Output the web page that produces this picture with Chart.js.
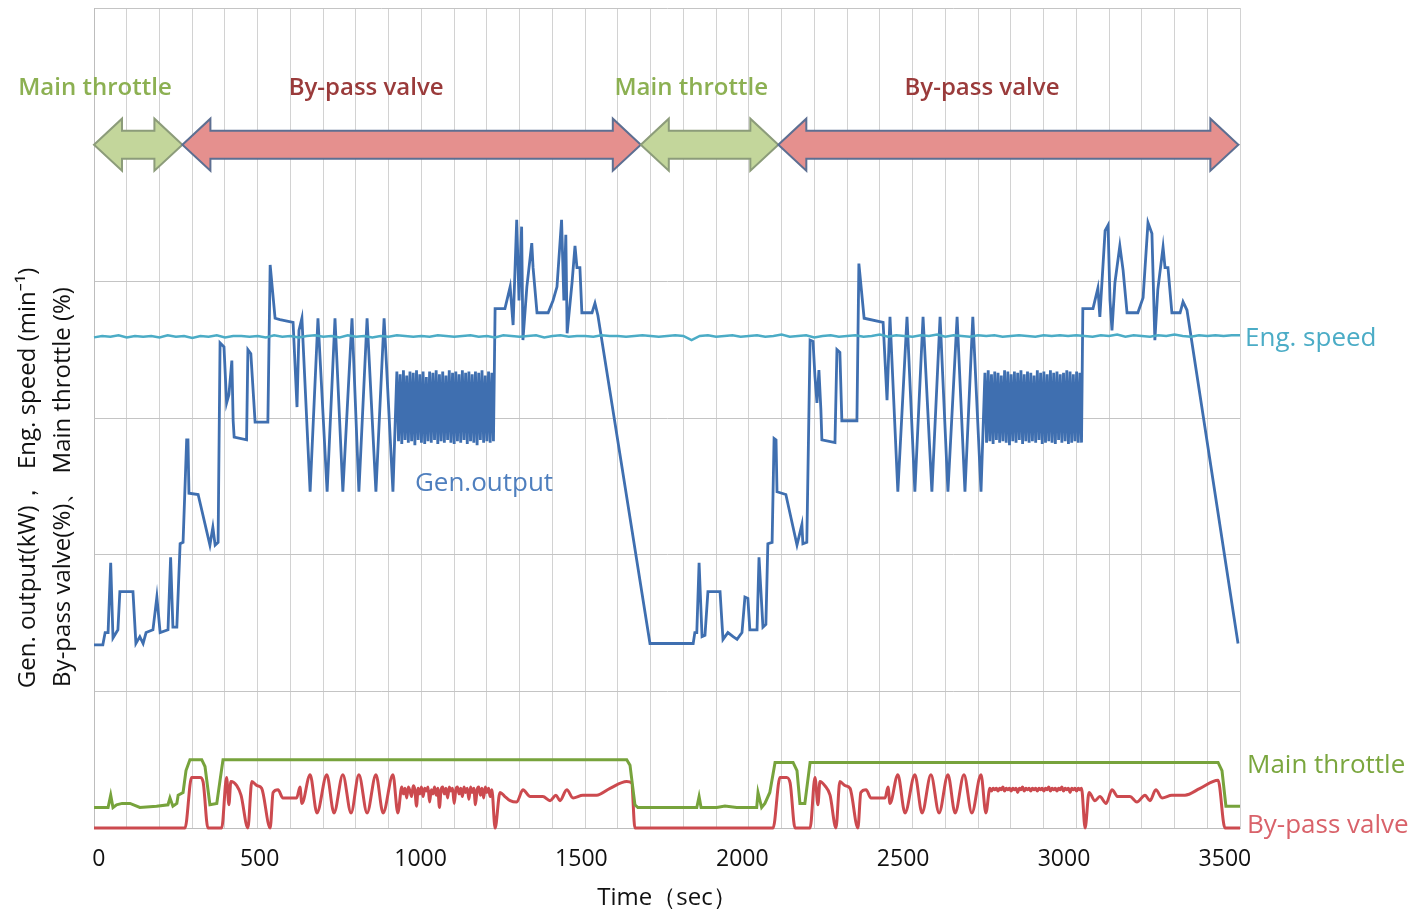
<!DOCTYPE html>
<html>
<head>
<meta charset="utf-8">
<script src="https://cdn.jsdelivr.net/npm/chart.js@4"></script>
<style>
  html, body { margin: 0; padding: 0; background: #fff; }
  canvas { display: block; }
</style>
</head>
<body>
<canvas id="chart" width="1422" height="913"></canvas>
<script>
// time in sec, values in plot units (10 units per horizontal gridline)
const timeLabels = [0, 500, 1000, 1500, 2000, 2500, 3000, 3500];

// Gen. output, split round the two dense oscillation blocks
const genTa = [0,27,34,43,51,58,73,79,119,128,140,150,159,180,192,202,226,234,241,253,263,272,283,287,290,318,354,363,370,379,385,397,405,412,421,425,428,466,470,479,492,531,538,553,568,608,620,626,635,660,684,712,736,760,788,809,834,861,886,913];
const genVa = [13.4,13.4,14.3,14.3,19.4,13.9,14.5,17.3,17.3,13.5,14.0,13.5,14.3,14.5,16.9,14.3,14.5,19.8,14.7,14.7,20.8,20.9,28.4,28.4,24.5,24.4,20.7,22.0,20.7,20.9,35.5,35.2,31.1,31.7,34.2,29.8,28.6,28.4,35.0,34.7,29.7,29.7,41.2,37.3,37.2,37.0,30.8,36.4,37.3,24.6,37.3,24.6,37.3,24.6,37.3,24.6,37.3,24.6,37.3,24.6];
const genBand1 = [33.4,28.3,33.2,28.1,33.5,28.4,33.1,28.2,33.4,28.3,33.3,28.0,33.5,28.4,33.2,28.2,33.4,28.1,33.0,28.3,33.4,28.2,33.3,28.4,33.5,28.1,33.2,28.3,33.4,28.2,33.1,28.4,33.5,28.2,33.3,28.1,33.4,28.3,33.2,28.2,33.5,28.4,33.3,28.1,33.4,28.3,33.2,28.2,33.4,28.0,33.3,28.4,33.5,28.2,33.1,28.3,33.4,28.2,33.3,28.3];
const genTb = [1225,1255,1271,1280,1291,1298,1306,1310,1322,1337,1341,1353,1387,1402,1414,1428,1435,1441,1445,1460,1469,1475,1484,1490,1521,1530,1539,1698,1830,1835,1841,1848,1857,1866,1875,1912,1921,1936,1952,1964,1979,1988,1997,2003,2025,2031,2043,2052,2058,2071,2077,2083,2086,2113,2147,2162,2165,2177,2187,2196,2202,2208,2214,2220,2223,2263,2269,2278,2284,2330,2336,2352,2410,2422,2431,2455,2483,2507,2532,2559,2584,2608,2636,2660,2684,2709];
const genVb = [38.0,38.0,39.6,36.8,44.5,38.6,44.0,35.7,39.6,42.8,41.0,37.7,37.7,38.6,39.6,44.5,38.6,43.4,36.2,39.9,42.6,41.0,41.0,37.7,37.7,38.4,37.5,13.5,13.5,14.3,14.3,19.4,14.0,14.1,17.3,17.3,13.8,14.3,14.0,13.8,14.3,16.9,16.8,14.5,14.5,19.8,14.7,14.9,20.8,20.9,28.5,28.4,24.6,24.4,20.7,22.2,20.8,20.9,35.7,35.6,33.0,31.1,33.5,30.6,28.4,28.2,35.0,34.8,29.8,29.8,41.3,37.3,37.0,31.3,37.4,24.6,37.4,24.6,37.4,24.6,37.4,24.6,37.4,24.6,37.4,24.6];
const genBand2 = [33.3,28.2,33.5,28.3,33.2,28.1,33.4,28.4,33.3,28.2,33.1,28.3,33.5,28.2,33.4,28.0,33.2,28.3,33.4,28.2,33.3,28.4,33.5,28.1,33.2,28.3,33.4,28.2,33.3,28.3,33.1,28.2,33.5,28.4,33.3,28.1,33.4,28.2,33.2,28.3,33.5,28.2,33.3,28.1,33.4,28.4,33.2,28.2,33.3,28.3,33.5,28.1,33.4,28.2,33.2,28.3,33.4,28.2,33.3,28.2];
const genTc = [3020,3051,3066,3072,3088,3097,3103,3109,3118,3133,3143,3155,3188,3204,3219,3231,3240,3249,3265,3271,3280,3292,3317,3326,3338,3494];
const genVc = [38.0,38.0,39.5,37.4,43.7,44.1,38.6,36.4,39.9,42.6,40.8,37.7,37.7,38.8,44.3,43.5,35.7,39.4,42.5,41.0,41.0,37.7,37.7,38.5,37.9,13.5];
const genBandStart = [925, 2721];
const genBandStep = 5;

// Eng. speed, one reading every 25 s
const engStep = 25;
const engSpeed = [
  35.9,36.0,35.95,36.05,35.9,36.0,35.95,36.0,35.9,36.05,35.95,36.0,35.85,36.0,35.95,36.05,35.9,36.0,36.0,35.95,
  36.0,35.9,36.05,35.95,36.0,35.9,36.0,36.05,35.95,36.0,35.9,36.05,35.95,36.0,35.9,36.0,35.95,36.05,36.0,35.95,
  36.0,35.95,36.05,36.0,35.95,36.0,36.05,35.95,36.0,35.9,36.05,36.0,35.95,36.0,36.05,35.9,36.0,36.05,35.95,36.0,
  36.0,35.95,36.05,36.0,36.0,35.95,36.0,36.05,36.0,35.95,36.0,36.05,36.0,35.7,36.0,36.05,35.95,36.0,36.05,35.95,
  36.0,36.05,35.95,36.0,36.1,35.95,36.0,36.05,35.9,36.0,36.05,35.95,36.0,36.05,35.95,36.0,36.1,35.95,36.05,36.0,
  35.95,36.05,36.0,36.1,35.95,36.05,36.0,35.95,36.05,36.0,36.05,35.95,36.0,36.05,36.0,35.95,36.05,36.0,36.05,36.0,
  36.05,36.0,35.95,36.05,36.0,36.1,35.95,36.05,36.0,35.95,36.05,36.0,36.1,36.0,35.95,36.05,36.0,36.05,36.0,36.05,36.05];

// Main throttle
const throttleT = [0,43,51,58,69,86,110,140,191,226,232,241,253,257,272,281,293,329,339,354,375,385,394,1627,1637,1652,1661,1841,1848,1854,1902,1927,1963,2024,2028,2039,2049,2064,2080,2135,2147,2156,2171,2187,3433,3445,3457,3500];
const throttleV = [1.5,1.5,2.4,1.5,1.7,1.8,1.8,1.5,1.6,1.7,2.2,1.6,1.8,2.4,2.6,4.2,5.0,5.0,4.5,1.7,1.8,3.5,5.0,5.0,4.6,1.7,1.5,1.5,2.3,1.5,1.5,1.6,1.5,1.5,2.6,1.5,1.8,2.6,4.8,4.8,4.2,1.8,1.8,4.8,4.8,4.2,1.6,1.6];

// By-pass valve
const bypassTa = [0,278,298,324,333,348,390,405,412,418,436,449,470,482,498,512,538,547,562,577,619,629,635,660,681,711,733,760,785,809,834,861,883,913,928];
const bypassVa = [0,0,3.7,3.7,3.4,0,0,3.7,1.7,3.4,3.1,2.4,0,3.4,3.1,2.9,0,2.6,2.8,2.2,2.2,3.0,1.8,3.9,1.1,3.9,1.1,3.9,1.1,3.9,1.1,3.9,1.1,3.9,1.1];
const bypassBand1 = [3.0,2.5,2.9,2.2,3.0,2.7,2.3,3.1,2.8,1.6,2.9,2.5,3.0,2.3,2.9,2.7,3.0,1.9,2.8,2.5,3.0,2.4,2.9,1.5,2.8,3.0,2.5,2.9,2.2,3.0,2.7,2.9,1.8,2.8,3.0,2.5,2.9,2.3,3.0,2.6,2.9,2.1,3.0,2.6,2.9,1.7,2.8,3.0,2.4,2.9,2.2,3.0,2.6,2.9,2.3,2.8];
const bypassTb = [1225,1240,1255,1271,1291,1310,1332,1371,1393,1411,1423,1444,1463,1493,1535,1576,1627,1642,1652,2074,2095,2115,2126,2141,2187,2202,2211,2217,2232,2248,2266,2278,2294,2309,2333,2342,2358,2373,2416,2425,2431,2455,2477,2507,2529,2556,2581,2608,2630,2657,2681,2709,2724];
const bypassVb = [0,2.6,2.3,2.0,1.9,2.8,2.3,2.3,2.0,2.4,2.0,2.8,2.2,2.4,2.4,2.9,3.4,3.3,0,0,3.7,3.7,3.3,0,0,3.7,1.7,3.4,3.1,2.4,0,3.4,3.1,2.9,0,2.6,2.8,2.2,2.2,3.0,1.8,3.9,1.1,3.9,1.1,3.9,1.1,3.9,1.1,3.9,1.1,3.9,1.1];
const bypassBand2 = [2.9,2.7,2.9,2.8,2.9,2.7,2.9,2.8,3.0,2.7,2.9,2.8,2.9,2.7,2.9,2.8,2.9,2.6,2.9,2.8,3.0,2.7,2.9,2.8,2.9,2.7,2.9,2.8,2.9,2.7,2.9,2.8,2.9,2.7,2.9,2.8,3.0,2.7,2.9,2.8,2.9,2.7,2.9,2.8,3.0,2.7,2.9,2.8,2.9,2.6,2.9,2.8,2.9,2.7,2.9,2.8,2.9];
const bypassTc = [3027,3039,3057,3072,3091,3109,3127,3164,3185,3210,3225,3243,3262,3292,3332,3378,3433,3454,3500];
const bypassVc = [0,2.6,2.0,2.3,1.8,2.8,2.3,2.3,1.9,2.4,2.0,2.8,2.2,2.4,2.4,2.9,3.5,0,0];
const bypassBandStart = [940, 2736];
const bypassBandStep = 5;

// control phases shown by the arrows on top
const phaseEdges = [0, 270, 1670, 2090, 3495];
const phaseNames = ['Main throttle', 'By-pass valve', 'Main throttle', 'By-pass valve'];
const phaseLabelTimes = [3, 831, 1824, 2712];

// ---- build points ----
const pts = (ts, vs) => ts.map((t, i) => ({ x: t, y: vs[i] }));
const band = (start, step, vs) => vs.map((v, i) => ({ x: start + i * step, y: v }));

const genPoints = [].concat(
  pts(genTa, genVa), band(genBandStart[0], genBandStep, genBand1),
  pts(genTb, genVb), band(genBandStart[1], genBandStep, genBand2),
  pts(genTc, genVc));
const engPoints = band(0, engStep, engSpeed);
const throttlePoints = pts(throttleT, throttleV);
const bypassPoints = [].concat(
  pts(bypassTa, bypassVa), band(bypassBandStart[0], bypassBandStep, bypassBand1),
  pts(bypassTb, bypassVb), band(bypassBandStart[1], bypassBandStep, bypassBand2),
  pts(bypassTc, bypassVc));

const FONT = "'Open Sans', 'Noto Sans', sans-serif";
Chart.defaults.font.family = FONT;

const C = {
  gen: '#3f6fb0', eng: '#4bacc6', throttle: '#77a33c', bypass: '#cc4a4f',
  arrowGreen: '#c3d69b', arrowGreenEdge: '#8c9c7a',
  arrowRed: '#e5908e', arrowRedEdge: '#5d6f92',
  topGreen: '#8cb052', topRed: '#9a3b3b'
};

function drawArrow(ctx, x1, x2, yc, fill, edge) {
  const bh = 14, hh = 26, hl = 28;
  ctx.beginPath();
  ctx.moveTo(x1, yc);
  ctx.lineTo(x1 + hl, yc - hh);
  ctx.lineTo(x1 + hl, yc - bh);
  ctx.lineTo(x2 - hl, yc - bh);
  ctx.lineTo(x2 - hl, yc - hh);
  ctx.lineTo(x2, yc);
  ctx.lineTo(x2 - hl, yc + hh);
  ctx.lineTo(x2 - hl, yc + bh);
  ctx.lineTo(x1 + hl, yc + bh);
  ctx.lineTo(x1 + hl, yc + hh);
  ctx.closePath();
  ctx.fillStyle = fill;
  ctx.fill();
  ctx.lineWidth = 2;
  ctx.strokeStyle = edge;
  ctx.stroke();
}

const notes = {
  id: 'notes',
  beforeDatasetsDraw(chart) {
    const { ctx, scales: { x, y } } = chart;
    ctx.save();
    const yc = y.getPixelForValue(50);
    for (let i = 0; i < phaseNames.length; i++) {
      const green = phaseNames[i] === 'Main throttle';
      drawArrow(ctx, x.getPixelForValue(phaseEdges[i]), x.getPixelForValue(phaseEdges[i + 1]), yc,
        green ? C.arrowGreen : C.arrowRed, green ? C.arrowGreenEdge : C.arrowRedEdge);
    }
    ctx.font = '600 24px ' + FONT;
    ctx.textAlign = 'center';
    ctx.textBaseline = 'middle';
    for (let i = 0; i < phaseNames.length; i++) {
      ctx.fillStyle = phaseNames[i] === 'Main throttle' ? C.topGreen : C.topRed;
      ctx.fillText(phaseNames[i], x.getPixelForValue(phaseLabelTimes[i]), y.getPixelForValue(54.1));
    }
    ctx.restore();
  },
  afterDatasetsDraw(chart) {
    const { ctx, chartArea, scales: { x, y } } = chart;
    ctx.save();
    ctx.textBaseline = 'middle';
    ctx.textAlign = 'left';
    ctx.font = '26px ' + FONT;
    const rx = chartArea.right + 5;
    ctx.fillStyle = C.eng;
    ctx.fillText('Eng. speed', rx, y.getPixelForValue(35.8));
    ctx.fillStyle = '#7aa63e';
    ctx.fillText('Main throttle', rx + 2, y.getPixelForValue(4.6));
    ctx.fillStyle = '#d9626a';
    ctx.fillText('By-pass valve', rx + 2, y.getPixelForValue(0.2));
    ctx.fillStyle = '#4f7fbe';
    ctx.fillText('Gen.output', x.getPixelForValue(980), y.getPixelForValue(25.2));

    // y axis title, two lines
    ctx.fillStyle = '#111';
    ctx.font = '24px ' + FONT;
    ctx.textAlign = 'center';
    const lines = [['Gen. output(kW)，  Eng. speed (min⁻¹)', 28, 478],
                   ['By-pass valve(%)、 Main throttle (%)', 63, 487]];
    for (const [txt, lx, ly] of lines) {
      ctx.save();
      ctx.translate(lx, ly);
      ctx.rotate(-Math.PI / 2);
      ctx.fillText(txt, 0, 0);
      ctx.restore();
    }
    ctx.restore();
  }
};

const line = (label, data, color, width, order, smooth) => ({
  label, data, borderColor: color, borderWidth: width, pointRadius: 0,
  tension: 0, fill: false, order, clip: 6,
  cubicInterpolationMode: smooth ? 'monotone' : 'default'
});

new Chart(document.getElementById('chart'), {
  type: 'line',
  data: {
    datasets: [
      line('Eng. speed', engPoints, C.eng, 2.5, 0, false),
      line('Gen.output', genPoints, C.gen, 2.8, 1, false),
      line('Main throttle', throttlePoints, C.throttle, 3, 2, false),
      line('By-pass valve', bypassPoints, C.bypass, 3, 3, true)
    ]
  },
  options: {
    responsive: false,
    animation: false,
    devicePixelRatio: 1,
    parsing: false,
    layout: { padding: { top: 8, right: 182, bottom: 0, left: 0 } },
    plugins: { legend: { display: false }, tooltip: { enabled: false } },
    scales: {
      // data axis: gridline every 100 s
      x: {
        type: 'linear', min: 0, max: 3500, weight: 0,
        afterFit: s => { s.height = 0; },
        grid: { color: '#d2d2d2', drawTicks: false },
        border: { color: '#bdbdbd' },
        ticks: { stepSize: 100, autoSkip: false, display: false }
      },
      // label axis: the time labels sit slightly off the gridlines, as in the source
      xl: {
        type: 'linear', position: 'bottom', min: -15, max: 3547, weight: 1,
        afterFit: s => { s.height = 85; },
        afterBuildTicks: s => { s.ticks = timeLabels.map(v => ({ value: v })); },
        grid: { display: false, drawTicks: false },
        border: { display: false },
        ticks: {
          autoSkip: false, maxRotation: 0, padding: 18,
          color: '#111', font: { size: 23 },
          callback: v => String(v)
        },
        title: { display: true, text: 'Time（sec）', color: '#111', font: { size: 24 }, padding: { top: 0, bottom: 0 } }
      },
      y: {
        min: 0, max: 60,
        afterFit: s => { s.width = 94; },
        grid: { color: '#c4c4c4', drawTicks: false },
        border: { color: '#bdbdbd' },
        ticks: { stepSize: 10, display: false }
      }
    }
  },
  plugins: [notes]
});
</script>
</body>
</html>
